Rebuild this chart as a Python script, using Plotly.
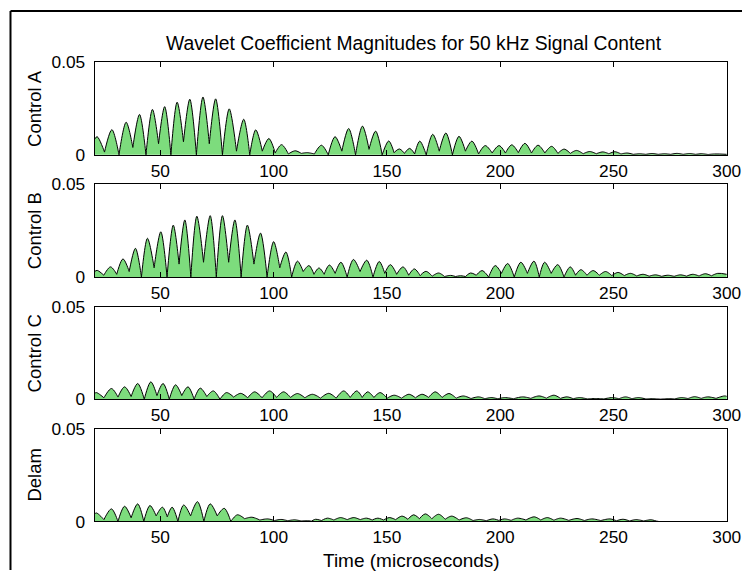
import plotly.graph_objects as go

# ---------------- data ----------------
PANEL_LABELS = ["Control A", "Control B", "Control C", "Delam"]
X_TICKS = [50, 100, 150, 200, 250, 300]
Y_TICKS = [0, 0.05]
Y_TICK_TEXT = ["0", "0.05"]
T_START = 21.0

# Control A
A_START_V = 0.0085
A_PEAK_T = [22.1, 28.6, 34.9, 40.8, 46.5, 51.9, 57.4, 63.0, 68.8, 74.4,
            80.4, 86.8, 92.1, 97.9, 103.5, 109.5, 114.9, 121.1, 127.1, 133.1,
            139.2, 145.0, 150.8, 155.5, 160.0, 164.5, 170.2, 176.0, 181.8, 187.5,
            193.4, 199.5, 205.1, 210.9, 216.7, 222.7, 228.2, 233.7, 239.5, 245.3,
            250.6, 256.0, 261.5, 267.0, 272.5, 278.0, 283.5, 289.0, 294.5]
A_PEAK_V = [0.0098, 0.0136, 0.0176, 0.0218, 0.0245, 0.0260, 0.0284, 0.0300, 0.0312, 0.0302,
            0.0248, 0.0192, 0.0135, 0.0088, 0.0055, 0.0022, 0.0012, 0.0052, 0.0098, 0.0142,
            0.0155, 0.0128, 0.0075, 0.0032, 0.0035, 0.0074, 0.0111, 0.0118, 0.0100, 0.0074,
            0.0050, 0.0050, 0.0054, 0.0062, 0.0052, 0.0046, 0.0031, 0.0024, 0.0018, 0.0016,
            0.0017, 0.0010, 0.0006, 0.0007, 0.0006, 0.0008, 0.0007, 0.0006, 0.0005]
A_TROUGH_V = [0.0015, 0.0, 0.004, 0.0, 0.006, 0.0, 0.007, 0.0, 0.006, 0.0,
              0.002, 0.0, 0.002, 0.001, 0.0005, 0.0008, 0.0005, 0.0, 0.002, 0.0,
              0.003, 0.0, 0.0012, 0.0008, 0.0005, 0.0, 0.002, 0.0, 0.002, 0.0005,
              0.001, 0.001, 0.0012, 0.001, 0.001, 0.0008, 0.0008, 0.0006, 0.0006, 0.0006,
              0.0005, 0.0003, 0.0003, 0.0003, 0.0003, 0.0003, 0.0003, 0.0002]
A_TAIL_T = [300.0]
A_TAIL_V = [0.0003]

# Control B
B_START_V = 0.0030
B_PEAK_T = [22.1, 28.0, 33.5, 39.0, 44.3, 50.2, 55.7, 60.8, 66.1, 72.0,
            77.4, 82.9, 88.4, 94.2, 100.0, 105.4, 110.5, 115.6, 120.0, 124.6,
            129.7, 135.2, 141.1, 146.6, 151.5, 157.1, 162.1, 167.2, 172.8, 178.1,
            182.5, 186.9, 192.0, 197.8, 203.3, 209.1, 214.9, 219.6, 225.4, 230.9,
            235.6, 241.0, 246.5, 252.0, 257.5, 263.0, 268.5, 274.0, 279.5, 285.0,
            290.5, 296.0]
B_PEAK_V = [0.0036, 0.0055, 0.0098, 0.0155, 0.0209, 0.0244, 0.0280, 0.0308, 0.0328, 0.0331,
            0.0331, 0.0308, 0.0280, 0.0237, 0.0191, 0.0135, 0.0086, 0.0062, 0.0049, 0.0065,
            0.0080, 0.0095, 0.0091, 0.0084, 0.0067, 0.0055, 0.0044, 0.0031, 0.0022, 0.0009,
            0.0007, 0.0022, 0.0035, 0.0062, 0.0073, 0.0080, 0.0086, 0.0080, 0.0067, 0.0055,
            0.0040, 0.0035, 0.0030, 0.0025, 0.0020, 0.0015, 0.0012, 0.0010, 0.0012, 0.0015,
            0.0018, 0.0020]
B_TROUGH_V = [0.001, 0.0015, 0.003, 0.0, 0.005, 0.0, 0.007, 0.0, 0.008, 0.0,
              0.008, 0.0, 0.007, 0.0, 0.005, 0.0, 0.003, 0.0015, 0.0015, 0.002,
              0.0, 0.003, 0.0, 0.002, 0.0015, 0.001, 0.0008, 0.0005, 0.0003, 0.0003,
              0.0003, 0.001, 0.0, 0.002, 0.0, 0.002, 0.0, 0.002, 0.0, 0.001,
              0.001, 0.001, 0.0008, 0.0008, 0.0006, 0.0005, 0.0004, 0.0004, 0.0005, 0.0006,
              0.0007]
B_TAIL_T = [300.0]
B_TAIL_V = [0.0015]

# Control C
C_START_V = 0.0032
C_PEAK_T = [21.8, 28.4, 34.2, 40.0, 45.8, 51.2, 56.7, 62.2, 67.6, 73.4,
            79.2, 85.5, 91.6, 98.2, 104.4, 110.5, 117.1, 124.3, 130.9, 136.7,
            141.5, 147.0, 153.2, 159.7, 165.5, 171.3, 177.4, 183.7, 190.5, 196.0,
            201.9, 209.9, 217.1, 223.7, 229.5, 235.0, 242.0, 249.5, 255.3, 261.0,
            267.5, 274.0, 280.0, 285.8, 291.6, 298.9]
C_PEAK_V = [0.0036, 0.0058, 0.0067, 0.0085, 0.0094, 0.0085, 0.0078, 0.0067, 0.0060, 0.0045,
            0.0036, 0.0032, 0.0040, 0.0045, 0.0040, 0.0031, 0.0027, 0.0032, 0.0045, 0.0045,
            0.0040, 0.0036, 0.0022, 0.0027, 0.0027, 0.0040, 0.0031, 0.0018, 0.0013, 0.0009,
            0.0009, 0.0013, 0.0018, 0.0022, 0.0013, 0.0009, 0.0004, 0.0009, 0.0013, 0.0009,
            0.0003, 0.0003, 0.0009, 0.0014, 0.0013, 0.0018]
C_TROUGH_V = [0.0008, 0.0012, 0.0015, 0.0, 0.002, 0.0, 0.002, 0.0, 0.0015, 0.0,
              0.0012, 0.0008, 0.0008, 0.001, 0.001, 0.0008, 0.0006, 0.0006, 0.001, 0.001,
              0.001, 0.0006, 0.0006, 0.0008, 0.001, 0.001, 0.0006, 0.0004, 0.0003, 0.0003,
              0.0003, 0.0005, 0.0006, 0.0005, 0.0003, 0.0002, 0.0002, 0.0003, 0.0003, 0.0002,
              0.0001, 0.0002, 0.0004, 0.0005, 0.0005]
C_TAIL_T = [300.0]
C_TAIL_V = [0.0016]

# Delam
D_START_V = 0.0040
D_PEAK_T = [21.8, 28.4, 34.2, 40.0, 45.4, 50.9, 55.2, 60.3, 66.4, 72.0,
            78.2, 84.0, 90.4, 97.4, 103.3, 109.2, 115.0, 118.5, 123.7, 129.5,
            135.4, 141.0, 146.0, 151.0, 156.7, 161.8, 166.9, 172.8, 178.6, 185.1,
            190.9, 196.8, 201.9, 207.7, 215.0, 220.8, 226.6, 233.9, 240.4, 248.4,
            254.2, 260.0, 266.6]
D_PEAK_V = [0.0046, 0.0068, 0.0082, 0.0095, 0.0086, 0.0077, 0.0077, 0.0089, 0.0107, 0.0095,
            0.0071, 0.0036, 0.0023, 0.0014, 0.0011, 0.0009, 0.0004, 0.0012, 0.0018, 0.0021,
            0.0021, 0.0018, 0.0018, 0.0021, 0.0029, 0.0036, 0.0041, 0.0039, 0.0029, 0.0020,
            0.0011, 0.0014, 0.0014, 0.0018, 0.0025, 0.0021, 0.0018, 0.0016, 0.0014, 0.0014,
            0.0012, 0.0010, 0.0009]
D_TROUGH_V = [0.001, 0.0, 0.002, 0.0, 0.003, 0.0025, 0.0, 0.003, 0.0, 0.003,
              0.0, 0.0015, 0.0008, 0.0005, 0.0004, 0.0003, 0.0002, 0.0005, 0.0008, 0.001,
              0.001, 0.0008, 0.0008, 0.001, 0.0012, 0.0015, 0.0015, 0.0012, 0.0008, 0.0005,
              0.0004, 0.0006, 0.0006, 0.0008, 0.0008, 0.0007, 0.0006, 0.0005, 0.0005, 0.0004,
              0.0003, 0.0003]
D_TAIL_T = [270.0, 300.0]
D_TAIL_V = [0.0, 0.0]

SERIES = [
    (A_START_V, A_PEAK_T, A_PEAK_V, A_TROUGH_V, A_TAIL_T, A_TAIL_V),
    (B_START_V, B_PEAK_T, B_PEAK_V, B_TROUGH_V, B_TAIL_T, B_TAIL_V),
    (C_START_V, C_PEAK_T, C_PEAK_V, C_TROUGH_V, C_TAIL_T, C_TAIL_V),
    (D_START_V, D_PEAK_T, D_PEAK_V, D_TROUGH_V, D_TAIL_T, D_TAIL_V),
]

TITLE = "Wavelet Coefficient Magnitudes for 50 kHz Signal Content"
XLABEL = "Time (microseconds)"

# ---------------- styling ----------------
W, H = 756, 580
FILL = "#7ddc7d"
FONT = "Liberation Sans, Arial, Helvetica, sans-serif"
TICK_SIZE = 17.3
LABEL_SIZE = 18.5
TITLE_SIZE = 19.3


# target picture px -> paper fraction (capture offset/scale compensated)
def fx(px):
    return (px / 0.982) / W


def fy(py):
    return 1 - ((py - 8.3) / 0.971) / H


AX_LEFT_FRAC = fx(94.7)
AX_RIGHT_FRAC = min(fx(735.3), 740.5 / W)   # keep the "300" label inside the page
PANEL_TOPS = [60.7, 183.6, 306.5, 429.4]
PANEL_H = 93.3


def build_path(start_v, pt, pv, tv, tail_t, tail_v):
    xs, ys = [T_START], [start_v]
    for i, (t, v) in enumerate(zip(pt, pv)):
        xs.append(t)
        ys.append(v)
        if i < len(tv):
            tm = (t + pt[i + 1]) / 2.0
            # doubled point -> sharp cusp at the trough with the spline shape
            xs += [tm, tm]
            ys += [tv[i], tv[i]]
    xs += list(tail_t)
    ys += list(tail_v)
    return xs, ys


fig = go.Figure()
for k, s in enumerate(SERIES):
    xs, ys = build_path(*s)
    sfx = "" if k == 0 else str(k + 1)
    fig.add_trace(go.Scatter(
        x=xs, y=ys, mode="lines", fill="tozeroy", fillcolor=FILL,
        line=dict(color="black", width=1, shape="spline", smoothing=1, simplify=False),
        xaxis="x" + sfx, yaxis="y" + sfx, showlegend=False, hoverinfo="skip",
    ))

layout = dict(
    width=W, height=H, margin=dict(l=0, r=0, t=0, b=0),
    paper_bgcolor="white", plot_bgcolor="white",
    font=dict(family=FONT, size=TICK_SIZE, color="black"),
    showlegend=False,
)
for k in range(4):
    sfx = "" if k == 0 else str(k + 1)
    top = PANEL_TOPS[k]
    bot = top + PANEL_H
    layout["xaxis" + sfx] = dict(
        domain=[AX_LEFT_FRAC, AX_RIGHT_FRAC], anchor="y" + sfx,
        range=[T_START, 300], tickvals=X_TICKS, ticks="inside", ticklen=5,
        tickwidth=1, tickcolor="black", showline=True, linecolor="black",
        linewidth=1, mirror="allticks", showgrid=False, zeroline=False,
        tickfont=dict(size=TICK_SIZE), ticklabelstandoff=0,
        ticklabeloverflow="allow",
    )
    layout["yaxis" + sfx] = dict(
        domain=[fy(bot), fy(top)], anchor="x" + sfx,
        range=[0, 0.05], tickvals=Y_TICKS, ticktext=Y_TICK_TEXT,
        ticks="inside", ticklen=5, tickcolor="black", showline=True,
        linecolor="black", linewidth=1, mirror="allticks", showgrid=False,
        zeroline=False, tickfont=dict(size=TICK_SIZE), ticklabelstandoff=5,
    )
fig.update_layout(**layout)

annotations = []
for k, lab in enumerate(PANEL_LABELS):
    cy = PANEL_TOPS[k] + PANEL_H / 2
    annotations.append(dict(
        text=lab, x=fx(34.5), y=fy(cy), xref="paper", yref="paper",
        textangle=-90, showarrow=False, xanchor="center", yanchor="middle",
        font=dict(size=LABEL_SIZE, family=FONT, color="black"),
    ))
annotations.append(dict(
    text=TITLE, x=fx(414), y=fy(42), xref="paper", yref="paper",
    showarrow=False, xanchor="center", yanchor="middle",
    font=dict(size=TITLE_SIZE, family=FONT, color="black"),
))
annotations.append(dict(
    text=XLABEL, x=fx(412), y=fy(562), xref="paper", yref="paper",
    showarrow=False, xanchor="center", yanchor="middle",
    font=dict(size=19, family=FONT, color="black"),
))
fig.update_layout(annotations=annotations)

# outer frame (only left and top edges are visible in the reference)
FRAME_X = fx(10.5)
FRAME_Y = 1 - 1.0 / H
fig.update_layout(shapes=[
    dict(type="line", xref="paper", yref="paper", x0=FRAME_X, x1=FRAME_X,
         y0=0, y1=FRAME_Y, line=dict(color="black", width=2)),
    dict(type="line", xref="paper", yref="paper", x0=FRAME_X, x1=1,
         y0=FRAME_Y, y1=FRAME_Y, line=dict(color="black", width=2)),
])

fig.write_html("out.html", config={"displayModeBar": False},
               post_script="document.body.style.margin='0';document.body.style.overflow='hidden';")
